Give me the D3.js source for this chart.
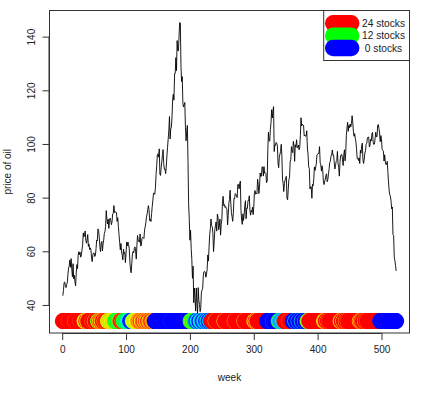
<!DOCTYPE html>
<html><head><meta charset="utf-8">
<script src="https://cdn.jsdelivr.net/npm/d3@7"></script>
<style>body{margin:0;background:#fff}svg{display:block;font-family:"Liberation Sans",Arial,sans-serif}</style>
</head><body>
<svg id="c" width="435" height="396"></svg>
<script>
// Weekly oil price (Fridays, 2004-12-31 .. 2015-01-02)
const price2004 = [43.45];
const price2005 = [45.43,48.38,48.53,47.23,46.48,47.54,48.35,51.49,53.78,54.43,56.72,54.05,57.27,53.32,50.49,55.39,49.72,51.03,48.67,47.16,51.85,55.03,53.54,58.47,59.84,58.75,59.63,57.81,58.65,60.57,62.31,66.86,65.36,66.13,67.57,64.08,63.00,64.19,66.24,61.84,62.63,60.63,61.28,60.58,57.53,56.14,58.71,59.32,59.39,58.06,58.43,61.04];
const price2006 = [64.21,63.92,68.35,67.76,65.37,61.84,59.88,62.91,63.67,60.12,62.69,64.26,66.63,67.39,69.32,75.17,71.88,70.19,72.04,68.53,71.37,72.33,71.63,69.93,70.87,73.93,74.09,77.03,74.43,74.54,74.76,74.35,71.14,72.51,69.20,66.25,63.33,60.55,62.91,59.76,58.57,56.82,60.75,59.14,59.58,55.81,59.24,63.43,62.03,63.43,62.41,61.05];
const price2007 = [56.31,52.99,51.99,55.42,59.02,59.89,59.39,61.14,61.64,60.05,57.11,62.28,65.87,64.28,63.63,63.38,66.46,61.93,62.37,64.94,65.20,65.08,64.76,68.00,69.18,70.68,72.81,73.93,75.57,77.02,75.48,71.47,71.98,71.09,74.04,76.70,79.10,81.62,81.66,81.22,83.69,88.60,91.86,95.93,96.32,95.10,98.18,88.71,88.28,91.27,93.31,96.00];
const price2008 = [97.91,92.69,90.57,90.71,88.96,91.77,95.50,98.81,101.84,105.15,110.21,101.84,105.62,106.23,110.14,116.69,118.52,116.32,126.29,126.29,132.19,127.35,138.54,134.86,134.62,140.21,145.29,145.08,128.88,123.26,125.10,115.20,113.77,114.59,115.46,106.23,101.18,104.55,106.89,93.88,77.70,71.85,64.15,67.81,61.04,57.04,49.93,54.43,40.81,46.28,42.36,37.71];
const price2009 = [46.34,40.83,36.51,46.47,41.68,40.17,37.51,38.94,44.76,45.52,46.25,51.06,52.38,52.51,52.24,50.33,51.55,53.20,58.63,56.34,61.67,66.31,68.44,72.04,69.55,69.16,66.73,59.89,63.56,68.05,69.45,70.93,67.51,73.89,72.74,68.02,69.29,72.04,66.02,69.95,71.77,78.53,80.50,77.00,77.43,76.35,76.72,76.05,75.47,69.87,73.36,78.05];
const price2010 = [79.36,82.75,78.00,74.54,72.89,71.19,74.13,79.81,79.66,81.50,81.24,80.68,80.00,84.87,84.92,83.24,85.12,86.15,75.11,71.61,70.04,73.97,71.51,73.78,77.18,78.86,72.14,76.09,76.01,78.98,78.95,80.70,75.39,73.46,75.17,74.60,76.45,73.66,76.49,81.58,82.66,81.25,81.69,81.43,86.85,84.88,81.51,83.76,89.19,87.79,88.02,91.51,91.38];
const price2011 = [88.03,91.54,89.11,89.34,89.03,85.58,86.20,97.88,104.42,101.16,101.07,105.40,107.94,112.79,109.66,112.29,113.93,97.18,99.65,99.49,100.59,100.22,99.29,93.01,91.16,94.94,96.20,97.24,99.87,95.70,86.88,85.38,82.26,85.37,86.45,87.24,87.96,79.85,79.20,82.98,86.80,87.40,93.32,94.26,98.99,97.41,96.77,100.96,99.41,93.53,99.68,98.83];
const price2012 = [101.56,98.70,98.46,99.56,97.84,98.67,103.24,109.77,106.70,107.40,107.06,106.87,103.02,103.31,102.83,103.05,104.93,98.49,96.13,91.48,90.86,83.23,84.10,84.03,79.76,84.96,84.45,87.10,91.44,90.13,91.40,92.87,96.01,96.15,96.47,96.42,99.00,92.89,92.19,89.88,91.86,90.05,86.28,84.86,86.07,86.92,88.28,88.91,85.93,86.73,88.66,90.80];
const price2013 = [93.09,93.56,95.56,95.88,97.77,95.72,95.86,93.13,90.68,91.95,93.45,93.71,97.23,92.70,91.29,88.01,93.00,95.61,96.04,96.02,94.15,91.97,96.03,97.85,93.69,96.56,103.22,105.95,108.05,104.70,106.94,106.03,107.46,106.42,107.65,110.53,108.21,104.67,102.87,103.84,102.02,100.81,97.85,94.61,94.60,93.84,94.84,92.72,97.65,96.60,99.32,100.32];
const price2014 = [93.96,92.72,94.37,96.64,97.49,99.88,100.30,102.20,102.59,102.58,98.89,99.46,101.67,101.14,103.74,104.30,100.60,99.76,99.99,102.02,104.35,102.71,102.66,106.91,107.26,105.74,104.06,100.83,103.13,102.09,97.88,97.65,97.35,93.65,95.96,93.29,92.27,92.41,93.54,89.74,85.82,82.75,81.01,80.54,78.65,75.82,76.51,66.15,65.84,57.81,56.52,54.73];
const price2015 = [52.69];

// Number of stocks held each week (0..24), shown as coloured points
const stocks = [
24,24,24,24,24,24,24,24,24,23,24,24,24,24,24,24,24,24,24,22,
24,24,24,24,24,24,24,23,24,24,24,24,24,24,18,16,20,24,19,21,
24,24,24,24,24,24,22,24,24,24,20,24,24,24,24,14,17,24,19,21,
24,18,22,24,24,20,24,22,24,24,21,18,16,20,17,19,15,18,20,17,
19,16,12,13,10,14,12,9,13,15,22,24,24,21,24,13,11,9,12,10,
8,11,7,9,6,2,0,1,0,3,17,16,18,15,17,16,18,19,20,22,
19,21,24,20,18,22,21,24,19,20,23,21,18,22,24,20,19,21,22,24,
20,21,19,22,0,0,0,0,0,0,0,0,0,0,0,0,0,0,0,0,
0,0,0,0,0,0,0,0,0,1,0,0,0,0,0,0,0,0,0,0,
0,0,0,0,0,0,0,0,0,0,0,0,0,0,0,0,0,0,0,0,
14,12,16,11,13,15,12,10,4,2,0,5,7,3,0,1,6,8,4,2,
0,3,5,7,2,0,4,6,1,0,3,5,2,24,24,24,24,24,24,20,
24,24,24,24,24,24,24,24,24,24,24,24,24,19,24,24,24,24,24,24,
24,24,24,24,24,24,24,24,24,21,24,24,24,24,24,24,24,24,24,24,
24,24,24,24,20,24,24,24,24,24,24,24,24,24,24,24,24,24,24,24,
18,21,24,19,22,24,24,24,24,24,24,24,24,24,24,24,24,24,24,24,
0,0,0,0,0,0,0,0,0,2,0,0,0,0,0,0,0,0,12,14,
4,6,2,5,3,7,5,24,24,24,24,24,24,24,22,24,24,24,24,24,
0,0,0,0,6,0,0,0,0,5,0,0,0,0,7,0,0,0,0,4,
0,0,0,13,16,20,24,24,24,24,24,24,24,24,24,24,24,24,24,24,
24,24,24,24,24,24,24,24,24,19,17,21,24,24,20,24,24,22,24,24,
24,24,24,24,24,24,24,24,24,24,24,24,24,24,24,18,21,24,24,17,
24,24,24,20,24,24,22,24,24,24,24,24,24,24,24,24,24,24,24,24,
24,24,24,24,24,19,24,17,24,21,24,24,24,20,24,24,22,24,24,24,
24,24,24,24,24,24,24,24,24,24,24,24,24,24,24,24,24,0,0,0,
0,0,0,0,0,0,0,0,0,0,0,0,0,0,0,0,0,0,0,0,
0,0,0];
const pointLevel = 34;

const xTicks = [0,100,200,300,400,500];
const yTicks = [40,60,80,100,120,140];
const legendStocks = [24,12,0];
const legendLabels = ["24 stocks","12 stocks","0 stocks"];
const xLabel = "week", yLabel = "price of oil";

const price = [].concat(price2004,price2005,price2006,price2007,price2008,price2009,price2010,price2011,price2012,price2013,price2014,price2015);
const n = price.length;
const weeks = d3.range(1, n+1);

const svg = d3.select("#c");
const L = 49.5, R = 409.5, T = 10.5, B = 333;
const ext = (lo,hi)=>{const d=(hi-lo)*0.04;return [lo-d,hi+d];};
const x = d3.scaleLinear().domain(ext(1,n)).range([L,R]);
const yMin = Math.min(pointLevel, d3.min(price)), yMax = Math.max(pointLevel, d3.max(price));
const y = d3.scaleLinear().domain(ext(yMin,yMax)).range([B,T]);
const col = s => d3.hsl((24 - s)/24*240, 1, 0.5).toString();
const ink = "#333";

// line
svg.append("path").datum(weeks)
  .attr("d", d3.line().x(w=>x(w)).y(w=>y(price[w-1])))
  .attr("fill","none").attr("stroke","#000").attr("stroke-width",0.9).attr("stroke-linejoin","round");

// points
svg.append("g").selectAll("circle").data(weeks).join("circle")
  .attr("cx", w=>x(w)).attr("cy", y(pointLevel)).attr("r", 8)
  .attr("fill", w=>col(stocks[w-1]));

// box
svg.append("rect").attr("x",L).attr("y",T).attr("width",R-L).attr("height",B-T)
  .attr("fill","none").attr("stroke",ink).attr("stroke-width",1);

// x axis
const gx = svg.append("g").attr("transform",`translate(0,${B})`)
  .call(d3.axisBottom(x).tickValues(xTicks).tickSize(7).tickPadding(6).tickFormat(d3.format("d")));
// y axis
const gy = svg.append("g").attr("transform",`translate(${L},0)`)
  .call(d3.axisLeft(y).tickValues(yTicks).tickSize(7).tickFormat(d3.format("d")));
[gx,gy].forEach(g=>{
  g.select(".domain").attr("stroke",ink);
  g.selectAll(".tick line").attr("stroke",ink);
  g.selectAll("text").attr("fill","#222").style("font-size","10px").style("font-family","Liberation Sans, Arial, sans-serif");
});
gy.select(".domain").attr("d",`M-0.5,${y(40)}V${y(140)}`);
gx.select(".domain").attr("d",`M${x(0)},0.5H${x(500)}`);
gy.selectAll(".tick text").attr("x",null).attr("dy",null)
  .attr("text-anchor","middle").attr("transform","translate(-15,0) rotate(-90)");

// axis titles
svg.append("text").attr("x",(L+R)/2).attr("y",381).attr("text-anchor","middle")
  .attr("fill","#222").style("font-size","10px").text(xLabel);
svg.append("text").attr("transform",`translate(11,${(T+B)/2}) rotate(-90)`).attr("text-anchor","middle")
  .attr("fill","#222").style("font-size","10px").text(yLabel);

// legend
const lg = svg.append("g");
lg.append("rect").attr("x",323.7).attr("y",T).attr("width",R-323.7).attr("height",50)
  .attr("fill","#fff").attr("stroke",ink).attr("stroke-width",1);
const ly = d3.scalePoint().domain(legendStocks).range([23.3,48]);
legendStocks.forEach((s,i)=>{
  lg.append("line").attr("x1",333.2).attr("x2",351.2).attr("y1",ly(s)).attr("y2",ly(s))
    .attr("stroke",col(s)).attr("stroke-width",16.5).attr("stroke-linecap","round");
});
legendStocks.forEach((s,i)=>{
  lg.append("text").attr("x",383.5).attr("y",ly(s)+3.6).attr("text-anchor","middle")
    .attr("fill","#222").style("font-size","10.2px").text(legendLabels[i]);
});
</script>
</body></html>
